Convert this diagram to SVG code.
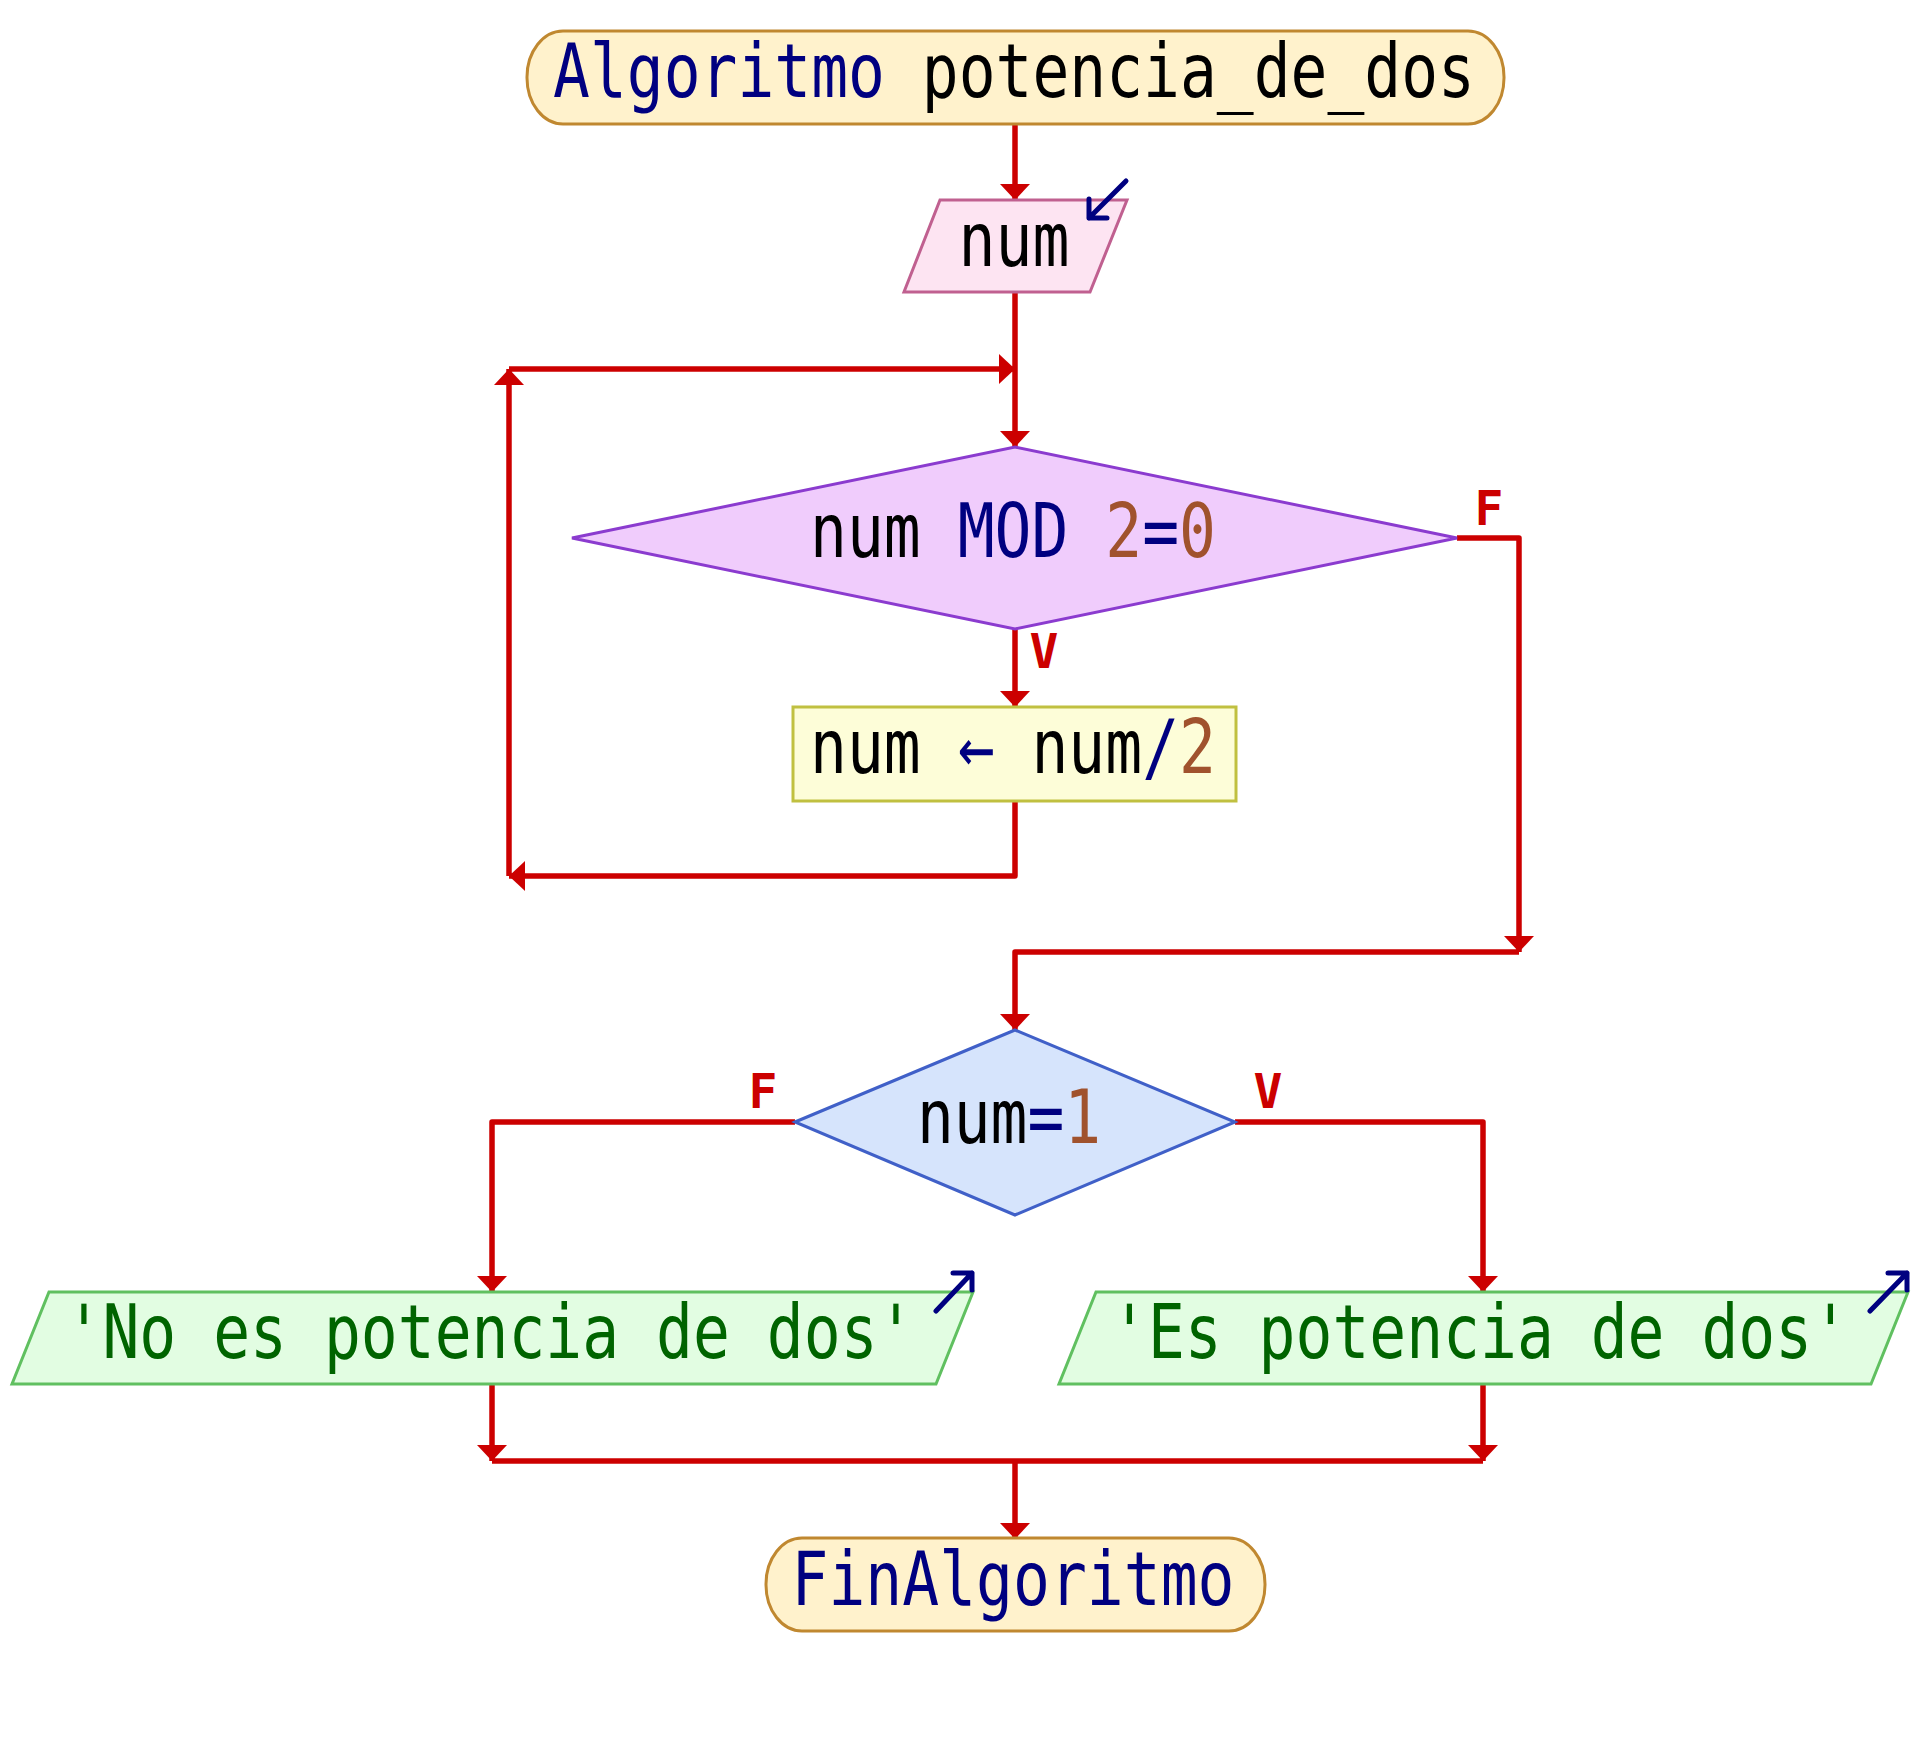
<svg xmlns="http://www.w3.org/2000/svg" width="1920" height="1738" viewBox="0 0 1920 1738">
<defs>
<style>
.t{font-family:"DejaVu Sans Mono","Liberation Mono",monospace;font-size:75px;fill:#000}
.kw{fill:#000080}
.nm{fill:#a0522d}
.st{fill:#006400}
.lb{font-family:"DejaVu Sans Mono","Liberation Mono",monospace;font-size:48px;font-weight:bold;fill:#cc0000}
.term{fill:#fff2cc;stroke:#c08830;stroke-width:3}
.inp{fill:#fde4f2;stroke:#c06090;stroke-width:3}
.out{fill:#e2fde2;stroke:#60c060;stroke-width:3}
.dec1{fill:#f0ccfc;stroke:#8b3bcf;stroke-width:3}
.dec2{fill:#d6e4fc;stroke:#4060c8;stroke-width:3}
.proc{fill:#fdfdd8;stroke:#c0c040;stroke-width:3}
.ico{fill:none;stroke:#000080;stroke-width:5;stroke-linecap:round;stroke-linejoin:round}
.c{fill:none;stroke:#cc0000;stroke-width:5.5;stroke-linejoin:round}
.a{marker-end:url(#ah)}
</style>
<marker id="ah" viewBox="0 0 16 30" refX="16" refY="15" markerWidth="16" markerHeight="30" orient="auto" markerUnits="userSpaceOnUse">
<path d="M0,0 L16,15 L0,30 Z" fill="#cc0000"/>
</marker>
</defs>
<rect width="1920" height="1738" fill="#ffffff"/>

<g id="connectors">
<path class="c a" d="M1015,124 V200"/>
<path class="c a" d="M1015,292 V447"/>
<path class="c a" d="M1015,629 V707"/>
<path class="c a" d="M1015,801 V876 H509"/>
<path class="c a" d="M509,876 V369"/>
<path class="c a" d="M509,369 H1015"/>
<path class="c a" d="M1457,538 H1519 V952"/>
<path class="c a" d="M1519,952 H1015 V1030"/>
<path class="c a" d="M795,1122 H492 V1292"/>
<path class="c a" d="M1235,1122 H1483 V1292"/>
<path class="c a" d="M492,1384 V1461"/>
<path class="c a" d="M1483,1384 V1461"/>
<path class="c" d="M492,1461 H1483"/>
<path class="c a" d="M1015,1461 V1539"/>
<text class="lb" x="1489" y="525" text-anchor="middle">F</text>
<text class="lb" x="1044" y="668" text-anchor="middle">V</text>
<text class="lb" x="763" y="1108" text-anchor="middle">F</text>
<text class="lb" x="1268" y="1108" text-anchor="middle">V</text>
</g>

<g id="start">
<rect class="term" x="527" y="31" width="977" height="93" rx="36" ry="46"/>
<text class="t" x="1014" y="97" text-anchor="middle" textLength="922" lengthAdjust="spacingAndGlyphs"><tspan class="kw">Algoritmo</tspan> potencia_de_dos</text>
</g>

<g id="read-num">
<polygon class="inp" points="940,200 1127,200 1090,292 904,292"/>
<text class="t" x="1014" y="266" text-anchor="middle" textLength="111" lengthAdjust="spacingAndGlyphs">num</text>
<path class="ico" d="M1126,181 L1089,218 M1089,199 L1089,218 L1107,218"/>
</g>

<g id="while-cond">
<polygon class="dec1" points="572,538 1015,447 1457,538 1015,629"/>
<text class="t" x="1013" y="557" text-anchor="middle" textLength="406" lengthAdjust="spacingAndGlyphs">num <tspan class="kw">MOD</tspan> <tspan class="nm">2</tspan><tspan class="kw">=</tspan><tspan class="nm">0</tspan></text>
</g>

<g id="assign">
<rect class="proc" x="793" y="707" width="443" height="94"/>
<text class="t" x="1013" y="773" text-anchor="middle" textLength="406" lengthAdjust="spacingAndGlyphs">num <tspan class="kw">←</tspan> num<tspan class="kw">/</tspan><tspan class="nm">2</tspan></text>
</g>

<g id="if-cond">
<polygon class="dec2" points="795,1122 1015,1030 1235,1122 1015,1215"/>
<text class="t" x="1009" y="1143" text-anchor="middle" textLength="184" lengthAdjust="spacingAndGlyphs">num<tspan class="kw">=</tspan><tspan class="nm">1</tspan></text>
</g>

<g id="out-no">
<polygon class="out" points="49,1292 973,1292 936,1384 12,1384"/>
<text class="t st" x="490" y="1358" text-anchor="middle" textLength="849" lengthAdjust="spacingAndGlyphs">'No es potencia de dos'</text>
<path class="ico" d="M936,1311 L972,1273 M953,1273 L972,1273 L972,1290"/>
</g>

<g id="out-yes">
<polygon class="out" points="1096,1292 1908,1292 1871,1384 1059,1384"/>
<text class="t st" x="1480" y="1358" text-anchor="middle" textLength="738" lengthAdjust="spacingAndGlyphs">'Es potencia de dos'</text>
<path class="ico" d="M1870,1311 L1907,1273 M1888,1273 L1907,1273 L1907,1290"/>
</g>

<g id="end">
<rect class="term" x="766" y="1538" width="499" height="93" rx="36" ry="46"/>
<text class="t kw" x="1013" y="1605" text-anchor="middle" textLength="443" lengthAdjust="spacingAndGlyphs">FinAlgoritmo</text>
</g>
</svg>
